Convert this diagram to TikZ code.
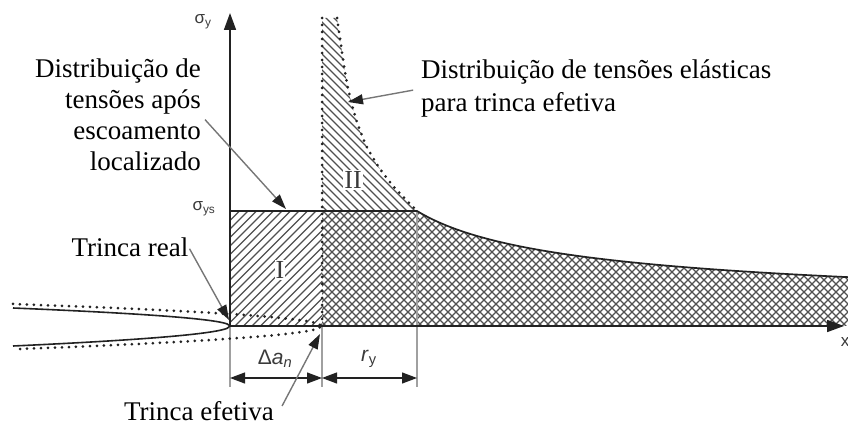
\documentclass[tikz,border=0pt]{standalone}
\usepackage{fontspec}
\setmainfont{Liberation Serif}
\newfontfamily\labelsans{Liberation Sans}
\usetikzlibrary{arrows.meta}
\definecolor{ink}{HTML}{222222}
\definecolor{hatchgray}{HTML}{505050}
\definecolor{dimgray}{HTML}{A0A0A0}
\definecolor{pointergray}{HTML}{767676}
\definecolor{labelgray}{HTML}{3A3A3A}
\begin{document}
\begin{tikzpicture}[x=1pt,y=-1pt,
  axisline/.style={draw=ink,line width=1.7pt,-{Triangle[length=17pt,width=12pt]}},
  edge/.style={draw=ink,line width=1.7pt},
  hatchline/.style={draw=hatchgray,line width=1.1pt},
  dotline/.style={draw=ink,line width=3pt,dash pattern=on 0pt off 7pt,line cap=round},
  crack/.style={draw=ink,line width=1.6pt},
  extline/.style={draw=dimgray,line width=1.3pt},
  dimarrow/.style={draw=ink,line width=1.2pt,{Triangle[length=15pt,width=11pt]}-{Triangle[length=15pt,width=11pt]}},
  pointer/.style={draw=pointergray,line width=1.4pt,-{Triangle[length=15pt,width=10pt,color=ink]}},
  serifbig/.style={font=\fontsize{27}{31}\selectfont,inner sep=0pt},
  serifwide/.style={font=\fontsize{27}{32.5}\selectfont,inner sep=0pt},
  roman/.style={font=\fontsize{26}{31}\selectfont,text=labelgray,fill=white,inner sep=1pt},
  sanslab/.style={font=\labelsans\fontsize{21}{23}\selectfont,text=labelgray,inner sep=0pt},
  sanssmall/.style={font=\labelsans\fontsize{17}{19}\selectfont,text=labelgray,inner sep=0pt}]
\useasboundingbox (0,0) rectangle (848,427);

% region I hatching (/)
\begin{scope}
  \clip (230,211) rectangle (322,326);
  \foreach \k in {-20,...,30} \draw[hatchline] (150+\k*8.5,360) -- ++(180,-180);
\end{scope}
% cross hatching region
\begin{scope}
  \clip (322,326) -- (322,211) -- (417,211) -- plot[domain=417:848,samples=60] (\x,{326-115*sqrt(95/(\x-322))}) -- (848,326) -- cycle;
  \foreach \k in {-20,...,75} {
    \draw[hatchline] (300+\k*8,340) -- ++(140,-140);
    \draw[hatchline] (200+\k*8,200) -- ++(140,140);
  }
\end{scope}
% region II hatching (\)
\begin{scope}
  \clip (322,211) -- (322,18) -- plot[smooth] coordinates {(337,18) (341,45) (345,72) (350,97) (357,122) (366,145) (378,166) (394,187) (417,211)} -- cycle;
  \foreach \k in {-40,...,20} \draw[hatchline] (300+\k*8,0) -- ++(230,230);
\end{scope}

% dimension extension lines
\coordinate (eA) at (230,327);
\coordinate (eA2) at (230,387);
\coordinate (eB) at (322,327);
\coordinate (eB2) at (322,387);
\coordinate (eC) at (417,211);
\coordinate (eC2) at (417,387);
\draw[extline] (eA) -- (eA2);
\draw[extline] (eB) -- (eB2);
\draw[extline] (eC) -- (eC2);

% yield line and elastic curve beyond r_y
\coordinate (ys0) at (230,211);
\coordinate (ys1) at (417,211);
\draw[edge] (ys0) -- (ys1) -- plot[domain=417:848,samples=80] (\x,{326-115*sqrt(95/(\x-322))});

% elastic distribution for effective crack (dotted)
\draw[dotline] plot[smooth] coordinates {(337,18) (341,45) (345,72) (350,97) (357,122) (366,145) (378,166) (394,187) (417,211)};
\coordinate (efftop) at (322,18);
\coordinate (effbot) at (322,326);
\draw[dotline] (efftop) -- (effbot);

% cracks
\draw[crack] plot[domain=13:230,samples=80] (\x,{326-18*sqrt((230-\x)/217)})
  -- plot[domain=230:13,samples=80] (\x,{326+20*sqrt((230-\x)/217)});
\draw[dotline] plot[domain=13:322,samples=60] (\x,{326-22*sqrt((322-\x)/309)});
\draw[dotline] plot[domain=20:322,samples=60] (\x,{326+23*sqrt((322-\x)/302)});

% axes
\coordinate (origin) at (230,326);
\coordinate (ytip) at (230,13);
\coordinate (xtip) at (844,326);
\draw[axisline] (origin) -- (ytip);
\draw[axisline] (origin) -- (xtip);

% dimensions
\coordinate (dA) at (230,378);
\coordinate (dB) at (322,378);
\coordinate (dC) at (417,378);
\draw[dimarrow] (dA) -- (dB);
\draw[dimarrow] (dB) -- (dC);
\node[sanslab] (dan) at (275,359) {Δ\textit{a}\textsubscript{\textit{n}}};
\node[sanslab] (ry) at (369,359) {\textit{r}\textsubscript{y}};

% axis labels
\node[sanssmall] (sy) at (203,22) {σ\textsubscript{y}};
\node[sanssmall] (sys) at (204,209) {σ\textsubscript{ys}};
\node[sanssmall] (xl) at (845,342) {x};

% region labels
\node[roman] (rI) at (280,270) {I};
\node[roman] (rII) at (353,180) {II};

% texts with pointers
\node[serifbig,align=right,anchor=north east] (plastic) at (201,59) {Distribuição de\\tensões após\\escoamento\\localizado};
\coordinate (plastictip) at (286,209);
\draw[pointer,shorten <=6pt] (plastic.east) -- (plastictip);

\node[serifwide,align=left,anchor=north west] (elastic) at (421,60) {Distribuição de tensões elásticas\\para trinca efetiva};
\coordinate (elastictip) at (348,102);
\draw[pointer,shorten <=8pt] (elastic.west) -- (elastictip);

\node[serifbig] (real) at (130,247) {Trinca real};
\coordinate (realtip) at (229,320);
\draw[pointer,shorten <=2pt] (real.east) -- (realtip);

\node[serifbig] (eff) at (199,411) {Trinca efetiva};
\coordinate (efftip) at (320,334);
\draw[pointer] ([xshift=8pt,yshift=5pt]eff.east) -- (efftip);
\end{tikzpicture}
\end{document}
